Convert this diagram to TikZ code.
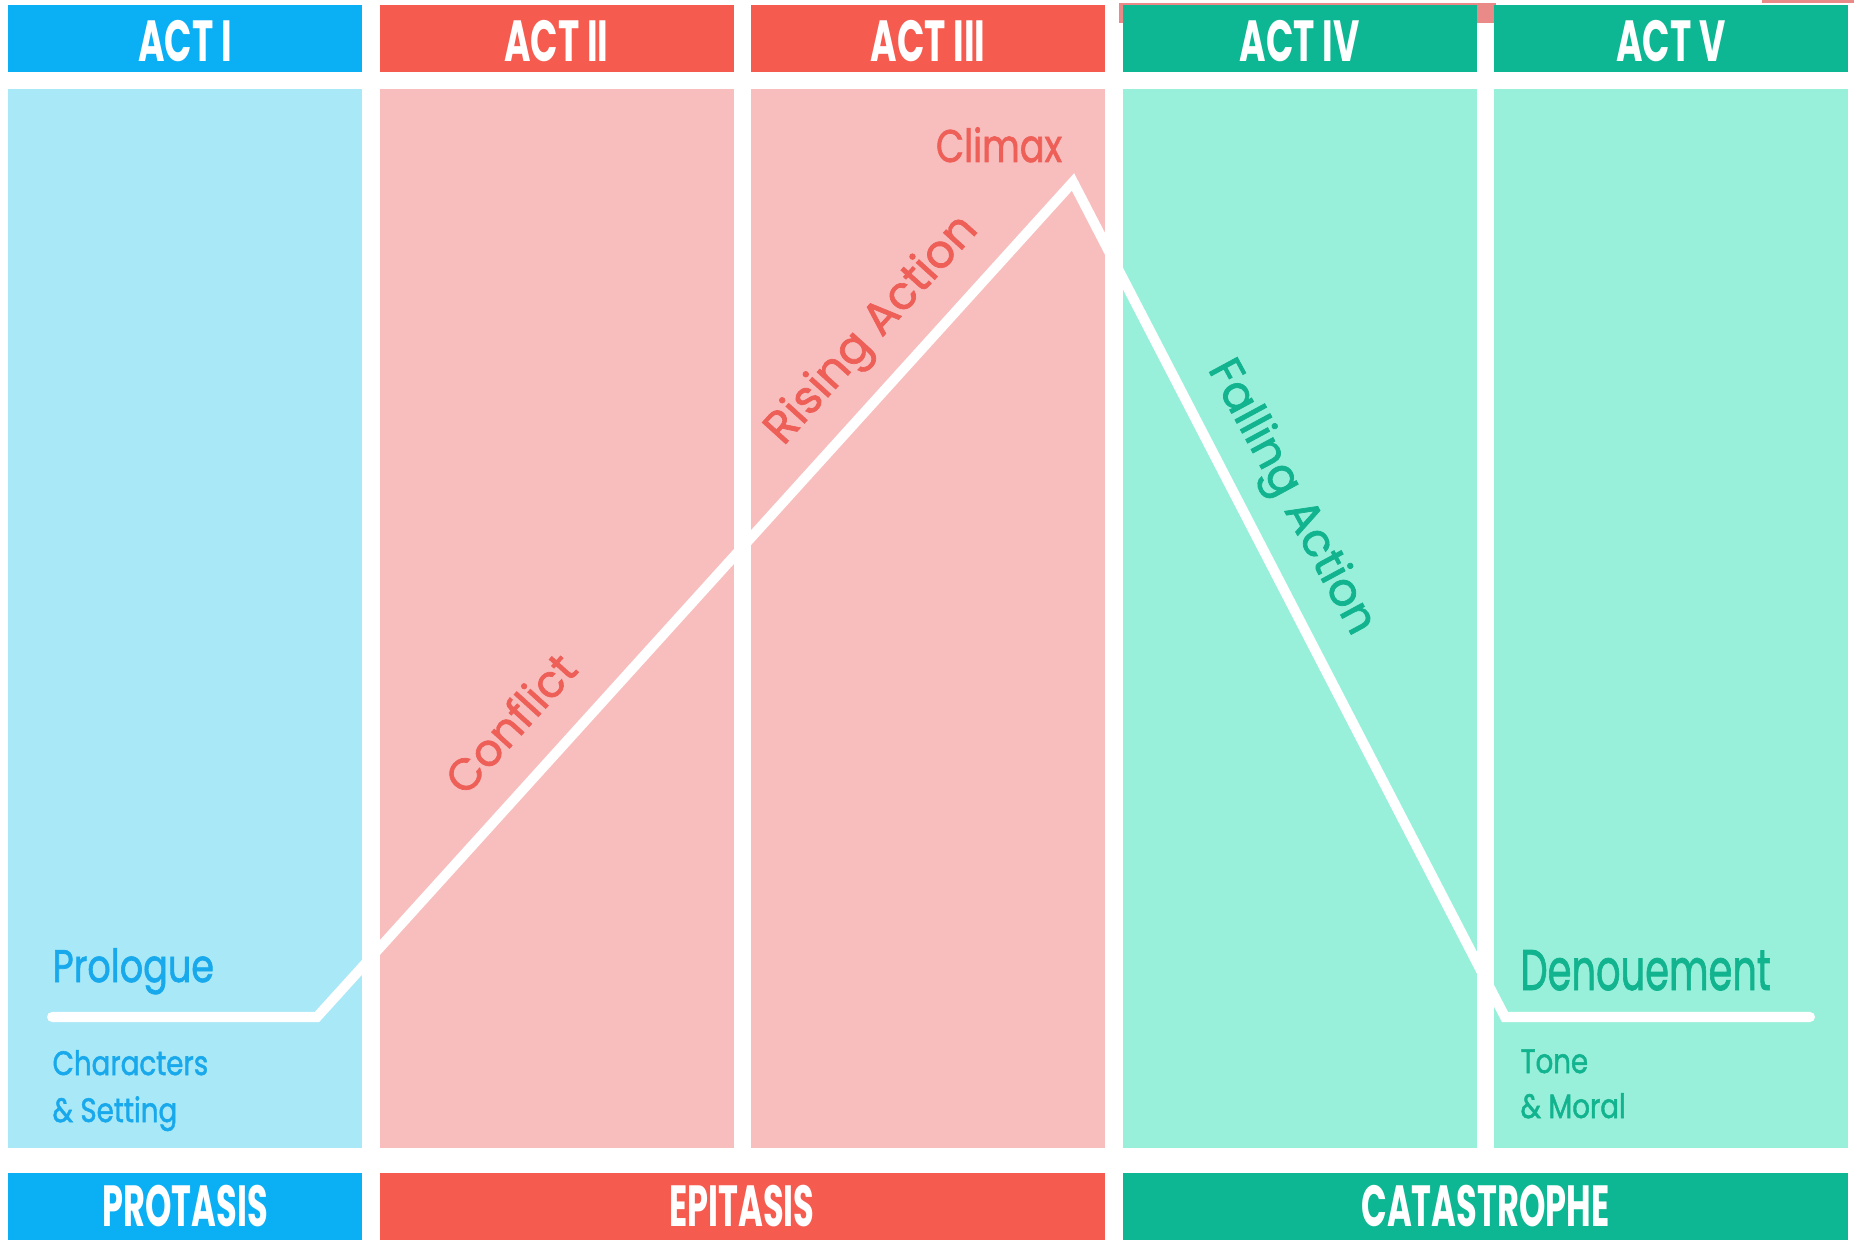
\documentclass[tikz,border=0pt]{standalone}
\usepackage{fontspec}
\setmainfont{Poppins}
\newfontfamily\labelfont{Poppins}[FakeBold=1.6]
\definecolor{actblue}{HTML}{0BAFF4}
\definecolor{actred}{HTML}{F65B4F}
\definecolor{actteal}{HTML}{0EB793}
\definecolor{paleblue}{HTML}{A9E8F7}
\definecolor{palered}{HTML}{F8BEBE}
\definecolor{paleteal}{HTML}{99F0DA}
\definecolor{textblue}{HTML}{18A8EC}
\definecolor{textred}{HTML}{EE5F58}
\definecolor{textteal}{HTML}{12B38F}
\definecolor{strip}{HTML}{E98A88}

\begin{document}
\begin{tikzpicture}[x=0.01cm,y=-0.01cm,
    actlabel/.style={text=white,font=\fontsize{16.5}{16.5}\selectfont\bfseries,xscale=0.62,inner sep=0pt,anchor=base},
    phaselabel/.style={text=white,font=\fontsize{16.5}{16.5}\selectfont\bfseries,xscale=0.58,inner sep=0pt,anchor=base},
    storyline/.style={white,line width=0.1cm,line join=miter,line cap=round},
    bigtext/.style={font=\labelfont\fontsize{13}{13}\selectfont,inner sep=0pt},
    subtext/.style={font=\labelfont\fontsize{9.6}{9.6}\selectfont,inner sep=0pt,anchor=base west,xscale=0.82}]

    \useasboundingbox (0,0) rectangle (1854,1240);
    \fill[white] (0,0) rectangle (1854,1240);

    \fill[strip] (1119,3) rectangle (1496,23);
    \fill[strip] (1762,0) rectangle (1854,3);

    \foreach \i/\head/\body/\name in {0/actblue/paleblue/ACT I,1/actred/palered/ACT II,2/actred/palered/ACT III,3/actteal/paleteal/ACT IV,4/actteal/paleteal/ACT V}{
        \pgfmathsetmacro\xl{8+371.5*\i}
        \fill[\head] (\xl,5) rectangle ++(354,67);
        \fill[\body] (\xl,89) rectangle ++(354,1059);
        \node[actlabel] (act\i) at (\xl+177,62) {\name};
    }

    \fill[actblue] (8,1173) rectangle (362,1245);
    \fill[actred] (379.5,1173) rectangle (1105,1245);
    \fill[actteal] (1122.5,1173) rectangle (1848,1245);
    \node[phaselabel] (protasis) at (185,1226) {PROTASIS};
    \node[phaselabel] (epitasis) at (742,1226) {EPITASIS};
    \node[phaselabel] (catastrophe) at (1485.5,1226) {CATASTROPHE};

    \coordinate (start) at (52,1017);
    \coordinate (turnup) at (317,1017);
    \coordinate (peak) at (1073,182);
    \coordinate (turndown) at (1505,1017);
    \coordinate (finish) at (1810,1017);
    \draw[storyline] (start) -- (turnup) -- (peak) -- (turndown) -- (finish);

    \node[bigtext,text=textred,anchor=base,xscale=0.8] (climax) at (999,162) {Climax};
    \node[bigtext,text=textred,rotate=47.8] (rising) at (873,331) {Rising Action};
    \node[bigtext,text=textred,rotate=47.8,font=\labelfont\fontsize{12.6}{12.6}\selectfont] (conflict) at (510,723) {Conflict};
    \node[bigtext,text=textteal,rotate=-61.6] (falling) at (1290,498) {Falling Action};

    \node[bigtext,text=textblue,anchor=base west,xscale=0.8] (prologue) at (52,982) {Prologue};
    \node[subtext,text=textblue] (characters) at (52,1075) {Characters};
    \node[subtext,text=textblue] (setting) at (52,1122) {\& Setting};

    \node[bigtext,text=textteal,anchor=base west,xscale=0.67,font=\labelfont\fontsize{16.3}{16.3}\selectfont] (denouement) at (1520,990) {Denouement};
    \node[subtext,text=textteal] (tone) at (1520,1073) {Tone};
    \node[subtext,text=textteal] (moral) at (1520,1118) {\& Moral};

\end{tikzpicture}
\end{document}
